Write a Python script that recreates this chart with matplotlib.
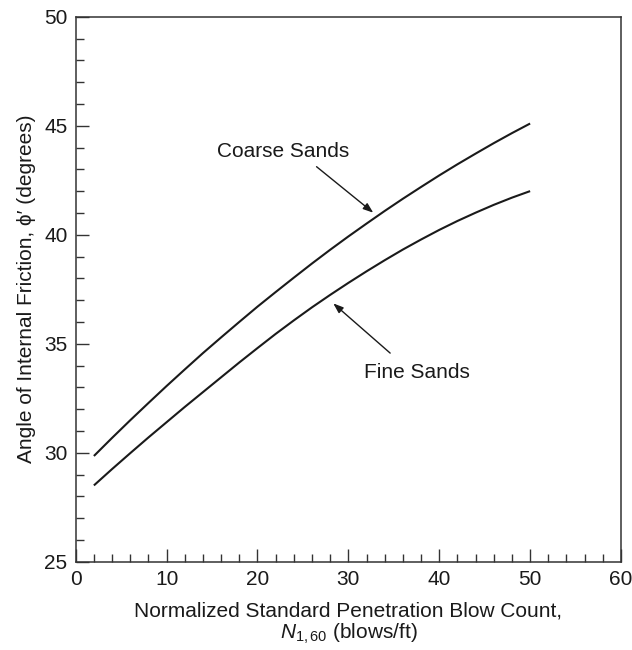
import matplotlib
matplotlib.use("Agg")
import matplotlib.pyplot as plt
from matplotlib.ticker import MultipleLocator

# Data (N1,60 in blows/ft, phi' in degrees)
n_values = [2, 4, 6, 8, 10, 12, 14, 16, 18, 20, 22, 24, 26,
            28, 30, 32, 34, 36, 38, 40, 42, 44, 46, 48, 50]
coarse_phi = [29.85, 30.68, 31.49, 32.28, 33.06, 33.82, 34.57, 35.29, 36.00,
              36.70, 37.37, 38.03, 38.68, 39.31, 39.92, 40.51, 41.09, 41.65,
              42.19, 42.72, 43.23, 43.72, 44.20, 44.66, 45.10]
fine_phi = [28.50, 29.25, 29.98, 30.70, 31.40, 32.10, 32.78, 33.46, 34.14,
            34.80, 35.45, 36.07, 36.67, 37.24, 37.79, 38.32, 38.83, 39.32,
            39.78, 40.22, 40.63, 41.01, 41.37, 41.70, 42.00]

x_ticks = [0, 10, 20, 30, 40, 50, 60]
y_ticks = [25, 30, 35, 40, 45, 50]

plt.rcParams['font.family'] = ['Liberation Sans', 'DejaVu Sans']
plt.rcParams['mathtext.fontset'] = 'custom'
plt.rcParams['mathtext.rm'] = 'Liberation Sans'
plt.rcParams['mathtext.it'] = 'Liberation Sans:italic'

FS = 15
ink = '#1a1a1a'
spine_c = '#333333'

fig = plt.figure(figsize=(6.32, 6.5), dpi=100)
ax = fig.add_axes([0.1198, 0.1358, 0.9826 - 0.1198, 0.9743 - 0.1358])

ax.plot(n_values, coarse_phi, color=ink, lw=1.5, solid_capstyle='butt')
ax.plot(n_values, fine_phi, color=ink, lw=1.5, solid_capstyle='butt')

ax.set_xlim(0, 60)
ax.set_ylim(25, 50)
ax.set_xticks(x_ticks)
ax.set_yticks(y_ticks)
ax.xaxis.set_minor_locator(MultipleLocator(2))
ax.yaxis.set_minor_locator(MultipleLocator(1))

ax.tick_params(which='both', direction='in', top=False, right=False,
               colors=spine_c, labelcolor=ink, labelsize=FS, width=1.0)
ax.tick_params(which='major', length=9.5, pad=6)
ax.tick_params(which='minor', length=5.5)
for s in ax.spines.values():
    s.set_color(spine_c)
    s.set_linewidth(1.1)

ax.set_xlabel("Normalized Standard Penetration Blow Count,\n$N_{1,60}$ (blows/ft)",
              fontsize=FS, color=ink, labelpad=9, linespacing=1.1)
ax.set_ylabel("Angle of Internal Friction, \u03d5\u2032 (degrees)",
              fontsize=FS, color=ink, labelpad=6)

arrow = dict(arrowstyle='-|>,head_length=0.6,head_width=0.22', color=ink,
             lw=1.0, shrinkA=0, shrinkB=0)
ax.annotate("", xy=(32.74, 41.01), xytext=(26.5, 43.12), arrowprops=arrow)
ax.text(22.8, 43.8, "Coarse Sands", fontsize=FS, color=ink,
        ha='center', va='center')
ax.annotate("", xy=(28.34, 36.85), xytext=(34.6, 34.57), arrowprops=arrow)
ax.text(37.6, 33.7, "Fine Sands", fontsize=FS, color=ink,
        ha='center', va='center')

fig.savefig("out.png", dpi=100)
